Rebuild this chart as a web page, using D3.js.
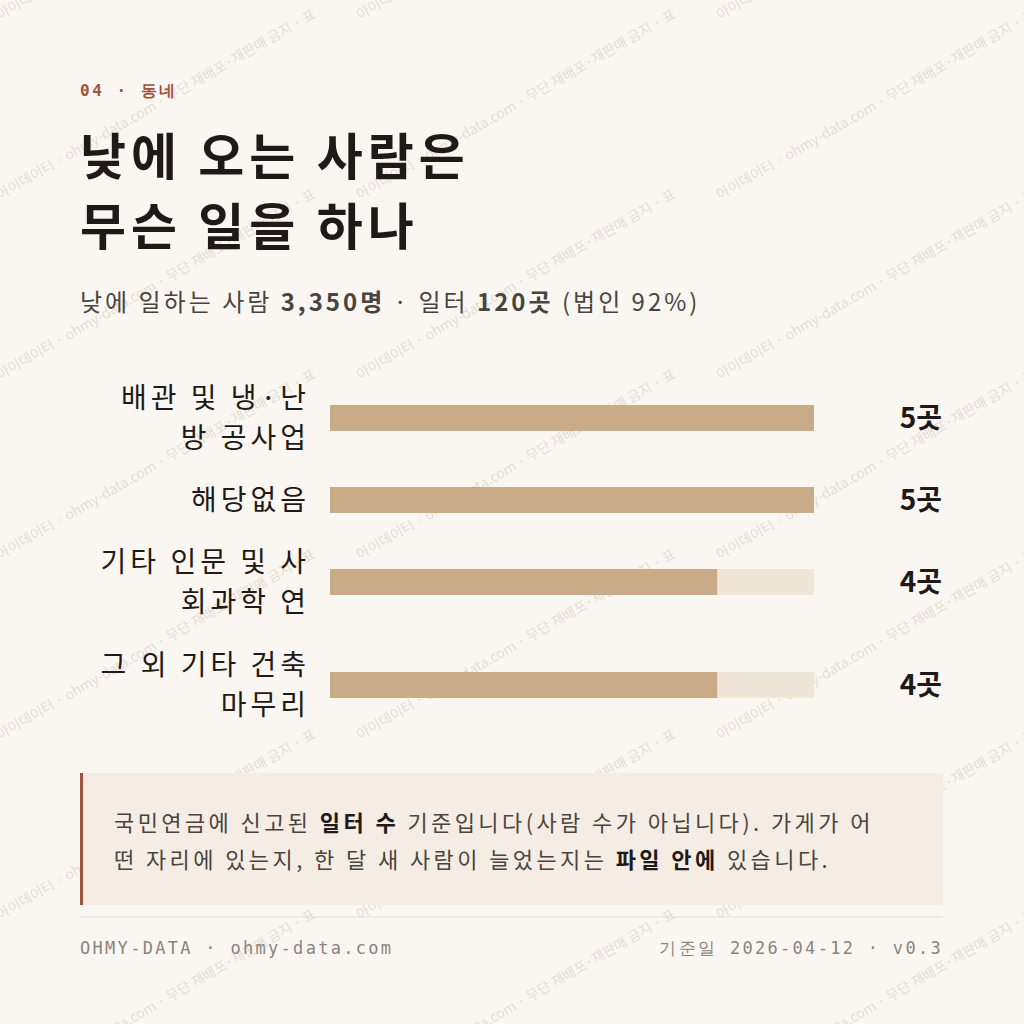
<!DOCTYPE html><html><head><meta charset="utf-8"><script src="https://cdn.jsdelivr.net/npm/d3@7"></script>
<style>body{margin:0;background:#faf7f2}</style></head><body><svg id="c" width="1024" height="1024"></svg>
<script>
const categories=[["배관 및 냉·난","방 공사업"],["해당없음"],["기타 인문 및 사","회과학 연"],["그 외 기타 건축","마무리"]];
const values=[5,5,4,4];
const valueLabels=["5곳","5곳","4곳","4곳"];
const rowCenters=[418,500,582,685];
const maxV=5;
const svg=d3.select("#c");
const F="'Noto Sans CJK KR','Noto Sans',sans-serif", M="'DejaVu Sans Mono',monospace";
svg.append("rect").attr("width",1024).attr("height",1024).attr("fill","#faf7f2");
const wm="아이데이터 · ohmy-data.com · 무단 재배포·재판매 금지 · 표";
const g=svg.append("g").attr("pointer-events","none");
for(let r=-1;r<7;r++)for(let k=0;k<3;k++){
 g.append("text").attr("transform",`translate(${k*360},${r*180+200}) rotate(-30)`).attr("font-family",F).attr("font-size",14).attr("fill","#c8b8a8").attr("opacity",0.4).text(wm);
}
svg.append("text").attr("x",80).attr("y",96).attr("font-family",M).attr("font-size",16).attr("font-weight","bold").attr("fill","#a0523d").attr("letter-spacing",2.5).text("04 · 동네");
[["낮에 오는 사람은",175],["무슨 일을 하나",245]].forEach(([t,y])=>svg.append("text").attr("x",80).attr("y",y).attr("font-family",F).attr("font-size",50).attr("font-weight","bold").attr("fill","#1f1a17").attr("letter-spacing",5).text(t));
const st=svg.append("text").attr("x",80).attr("y",311).attr("font-family",F).attr("font-size",24).attr("fill","#4a4440").attr("letter-spacing",3);
st.append("tspan").text("낮에 일하는 사람 ");st.append("tspan").attr("font-weight","bold").text("3,350명");
st.append("tspan").text(" · 일터 ");st.append("tspan").attr("font-weight","bold").text("120곳");st.append("tspan").text(" (법인 92%)");
const x=d3.scaleLinear().domain([0,maxV]).range([330,814]);
const bh=26;
categories.forEach((c,i)=>{
 const cy=rowCenters[i];
 svg.append("rect").attr("x",x(0)).attr("y",cy-bh/2).attr("width",x(maxV)-x(0)).attr("height",bh).attr("fill","#f0e6d8");
 svg.append("rect").attr("x",x(0)).attr("y",cy-bh/2).attr("width",x(values[i])-x(0)).attr("height",bh).attr("fill","#c9ab88");
 const n=c.length;
 c.forEach((l,j)=>svg.append("text").attr("x",310).attr("y",cy+(j-(n-1)/2)*40+10).attr("text-anchor","end").attr("font-family",F).attr("font-size",28).attr("fill","#1f1a17").attr("letter-spacing",4).text(l));
 svg.append("text").attr("x",942).attr("y",cy+10).attr("text-anchor","end").attr("font-family",F).attr("font-size",28).attr("font-weight","bold").attr("fill","#1f1a17").text(valueLabels[i]);
});
svg.append("rect").attr("x",80).attr("y",773).attr("width",863).attr("height",132).attr("fill","#f5ede3");
svg.append("rect").attr("x",80).attr("y",773).attr("width",3).attr("height",132).attr("fill","#a0523d");
const n1=svg.append("text").attr("x",114).attr("y",831).attr("font-family",F).attr("font-size",22).attr("fill","#4a4440").attr("letter-spacing",3.4);
n1.append("tspan").text("국민연금에 신고된 ");n1.append("tspan").attr("font-weight","bold").attr("fill","#1f1a17").text("일터 수");n1.append("tspan").text(" 기준입니다(사람 수가 아닙니다). 가게가 어");
const n2=svg.append("text").attr("x",114).attr("y",868).attr("font-family",F).attr("font-size",22).attr("fill","#4a4440").attr("letter-spacing",3.4);
n2.append("tspan").text("떤 자리에 있는지, 한 달 새 사람이 늘었는지는 ");n2.append("tspan").attr("font-weight","bold").attr("fill","#1f1a17").text("파일 안에");n2.append("tspan").text(" 있습니다.");
svg.append("line").attr("x1",80).attr("x2",943).attr("y1",917).attr("y2",917).attr("stroke","#e6dfd5");
svg.append("text").attr("x",80).attr("y",954).attr("font-family",M).attr("font-size",17).attr("fill","#8a847c").attr("letter-spacing",2.3).text("OHMY-DATA · ohmy-data.com");
svg.append("text").attr("x",943).attr("y",954).attr("text-anchor","end").attr("font-family",M).attr("font-size",17).attr("fill","#8a847c").attr("letter-spacing",2.3).text("기준일 2026-04-12 · v0.3");
</script></body></html>
